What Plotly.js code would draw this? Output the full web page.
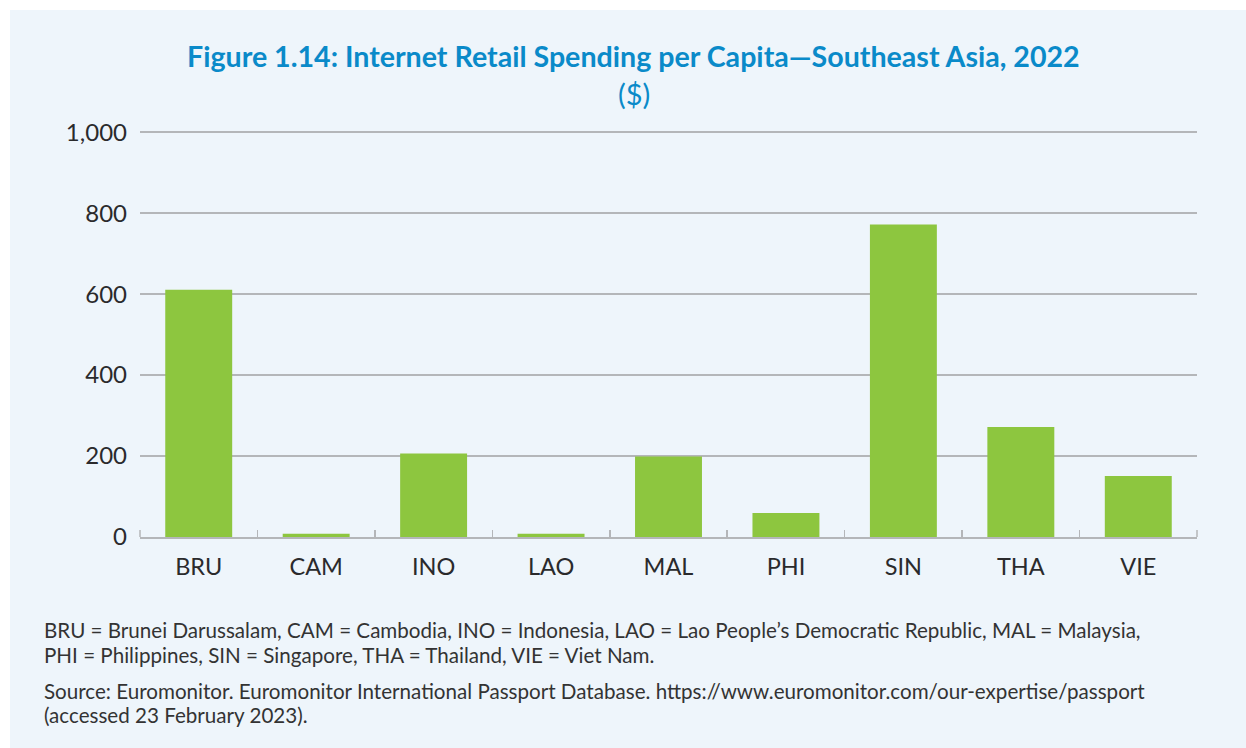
<!DOCTYPE html>
<html>
<head>
<meta charset="utf-8">
<script src="https://cdn.plot.ly/plotly-3.0.1.min.js"></script>
<style>
html,body{margin:0;padding:0;background:#ffffff;}
#bg{position:absolute;left:10px;top:10px;width:1236px;height:738px;background:#EEF5FB;}
#chart{position:absolute;left:0;top:0;width:1246px;height:748px;}
</style>
</head>
<body>
<div id="bg"></div>
<div id="chart"></div>
<script>
const categories = ["BRU","CAM","INO","LAO","MAL","PHI","SIN","THA","VIE"];
const spending = [611, 8, 206, 8, 199, 59, 772, 272, 151];
const yTicks = [0, 200, 400, 600, 800, 1000];

const titleText = "Figure 1.14: Internet Retail Spending per Capita—Southeast Asia, 2022";
const subtitleText = "($)";
const noteLines = [
  "BRU = Brunei Darussalam, CAM = Cambodia, INO = Indonesia, LAO = Lao People’s Democratic Republic, MAL = Malaysia,",
  "PHI = Philippines, SIN = Singapore, THA = Thailand, VIE = Viet Nam.",
  "Source: Euromonitor. Euromonitor International Passport Database. https://www.euromonitor.com/our-expertise/passport",
  "(accessed 23 February 2023)."
];

const font = "Lato, 'Open Sans', sans-serif";
const textColor = "#2A2A2C";
const gridColor = "#B4B6B9";
const titleColor = "#0A8AC9";

// plot-area geometry in pixels (for placing free text)
const plotTop = 131, plotBottom = 537;
const noteCenters = [630, 655, 691, 715];

const data = [{
  type: "bar",
  x: categories,
  y: spending,
  marker: {color: "#8DC63F"},
  hoverinfo: "x+y"
}];

const annotations = [
  {text: "<b>" + titleText + "</b>", xref: "paper", yref: "paper", x: 0.467, y: 1, xanchor: "center", yanchor: "middle",
   yshift: plotTop - 56, showarrow: false, font: {size: 28.6, color: titleColor, family: font}},
  {text: subtitleText, xref: "paper", yref: "paper", x: 0.467, y: 1, xanchor: "center", yanchor: "middle",
   yshift: plotTop - 93, showarrow: false, font: {size: 29, color: titleColor, family: font}}
];
noteLines.forEach((t, i) => {
  annotations.push({text: t, xref: "paper", yref: "paper", x: 0, y: 0, xanchor: "left", yanchor: "middle", align: "left",
    xshift: -98, yshift: plotBottom - noteCenters[i], showarrow: false, font: {size: 20.6, color: "#333333", family: font}});
});

// end tick marks at both ends of the category axis (Plotly omits the outer boundary ticks)
const endTicks = [0, 1].map(xp => ({
  type: "line", xref: "paper", yref: "paper", x0: xp, x1: xp,
  ysizemode: "pixel", yanchor: 0, y0: 0, y1: 7,
  line: {color: gridColor, width: 1.5}
}));

const layout = {
  width: 1246,
  height: 748,
  paper_bgcolor: "rgba(0,0,0,0)",
  plot_bgcolor: "rgba(0,0,0,0)",
  margin: {l: 140, r: 49, t: plotTop, b: 748 - plotBottom},
  showlegend: false,
  bargap: 0.43,
  font: {family: font, color: textColor},
  xaxis: {
    type: "category",
    showline: true,
    linecolor: gridColor,
    linewidth: 1.5,
    ticks: "inside",
    tickson: "boundaries",
    ticklen: 7,
    tickcolor: gridColor,
    tickwidth: 1.5,
    ticklabelstandoff: 8,
    tickfont: {size: 23.5, color: textColor, family: font},
    showgrid: false
  },
  yaxis: {
    range: [0, 1003],
    tickvals: yTicks,
    tickformat: ",",
    showgrid: true,
    gridcolor: gridColor,
    gridwidth: 1.5,
    zeroline: false,
    showline: false,
    ticks: "",
    ticklabelstandoff: 12,
    tickfont: {size: 24, color: textColor, family: font}
  },
  shapes: endTicks,
  annotations: annotations
};

Plotly.newPlot("chart", data, layout, {displayModeBar: false, staticPlot: true});
</script>
</body>
</html>
